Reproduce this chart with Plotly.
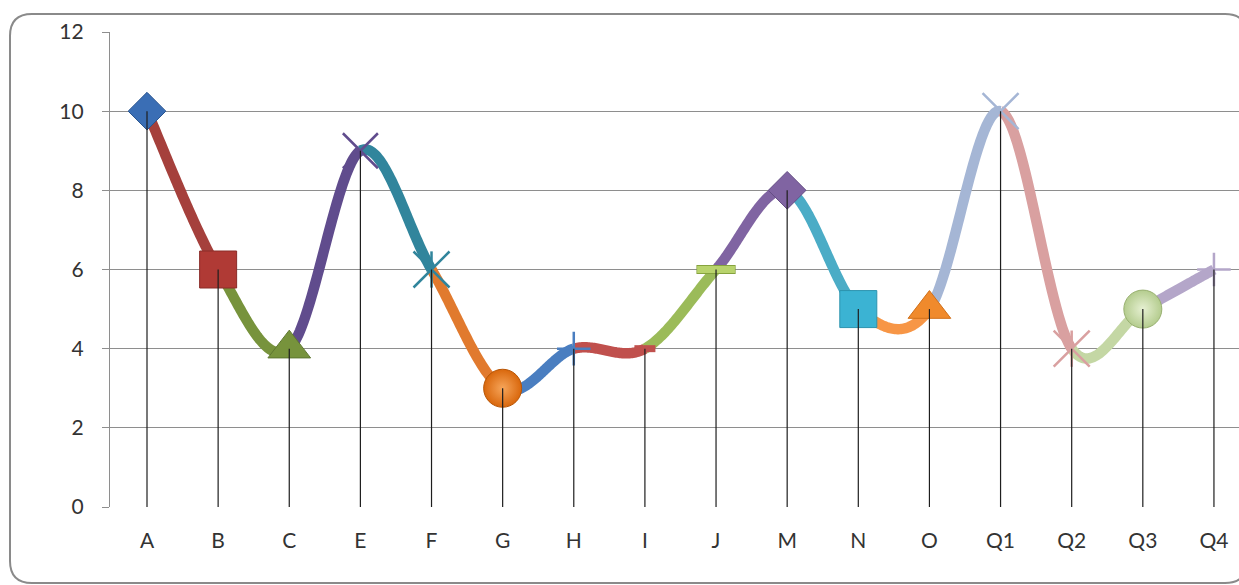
import plotly.graph_objects as go

# ---- data ----
categories = ["A", "B", "C", "E", "F", "G", "H", "I", "J", "M", "N", "O", "Q1", "Q2", "Q3", "Q4"]
values = [10, 6, 4, 9, 6, 3, 4, 4, 6, 8, 5, 5, 10, 4, 5, 6]
y_ticks = [0, 2, 4, 6, 8, 10, 12]

# ---- per-point styling (segment ending at a point takes that point's colour) ----
line_colors = ["#3A6EB5", "#A5403C", "#77933C", "#604C8D", "#31859C", "#E17A2E",
               "#4A7EC0", "#C0504D", "#9BBB59", "#8064A2", "#4BACC6", "#F79646",
               "#A5B6D5", "#D9A0A0", "#C4D7A4", "#B4A6C9"]
marker_styles = [
    dict(symbol="diamond", size=29, color="#3A6EB5", edge="#2A5590"),
    dict(symbol="square", size=37, color="#B03A35", edge="#8A2C28"),
    dict(symbol="triangle-up", size=37, color="#77933C", edge="#5E7730"),
    dict(symbol="x-thin", size=35, color="#604C8D", edge="#604C8D", lw=2.5),
    dict(symbol="x-thin", size=36, color="#31859C", edge="#31859C", lw=2.5, star=True),
    dict(symbol="circle", size=38, color="#D9670C", edge="#B85606", glow="#F6A55A"),
    dict(symbol="cross-thin", size=24, color="#4A7EC0", edge="#4A7EC0", lw=2.5),
    dict(symbol="line-ew", size=15, color="#C0504D", edge="#C0504D", lw=7),
    dict(symbol="line-ew", size=27, color="#B8D36C", edge="#86A33E", lw=7),
    dict(symbol="diamond", size=29, color="#8064A2", edge="#654E85"),
    dict(symbol="square", size=37, color="#3BB3D3", edge="#2C93AE"),
    dict(symbol="triangle-up", size=37, color="#F08A2C", edge="#D0701A"),
    dict(symbol="x-thin", size=36, color="#A5B6D5", edge="#A5B6D5", lw=2.5),
    dict(symbol="x-thin", size=36, color="#D9A0A0", edge="#D9A0A0", lw=2.5, star=True),
    dict(symbol="circle", size=38, color="#B4CC8E", edge="#98B070", glow="#E6F0D2"),
    dict(symbol="cross-thin", size=24, color="#B4A6C9", edge="#B4A6C9", lw=2.5),
]

GRID = "#8E8E8E"
TEXT = "#333333"
FONT = "Lato"

n = len(values)
xs = list(range(n))


def smooth_segment(i, steps=60):
    """Cubic Bezier (Catmull-Rom style) between point i and i+1."""
    p0 = (xs[max(i - 1, 0)], values[max(i - 1, 0)])
    p1 = (xs[i], values[i])
    p2 = (xs[i + 1], values[i + 1])
    p3 = (xs[min(i + 2, n - 1)], values[min(i + 2, n - 1)])
    c1 = (p1[0] + (p2[0] - p0[0]) / 6, p1[1] + (p2[1] - p0[1]) / 6)
    c2 = (p2[0] - (p3[0] - p1[0]) / 6, p2[1] - (p3[1] - p1[1]) / 6)
    cx, cy = [], []
    for k in range(steps + 1):
        t = k / steps
        a, b, c, d = (1 - t) ** 3, 3 * (1 - t) ** 2 * t, 3 * (1 - t) * t ** 2, t ** 3
        cx.append(a * p1[0] + b * c1[0] + c * c2[0] + d * p2[0])
        cy.append(a * p1[1] + b * c1[1] + c * c2[1] + d * p2[1])
    return cx, cy


fig = go.Figure()

# coloured smooth segments
for i in range(n - 1):
    cx, cy = smooth_segment(i)
    fig.add_trace(go.Scatter(x=cx, y=cy, mode="lines",
                             line=dict(color=line_colors[i + 1], width=10.5,
                                       simplify=False),
                             hoverinfo="skip", showlegend=False))

# markers
for i, st in enumerate(marker_styles):
    sym = st["symbol"]
    if sym in ("x-thin", "cross-thin", "line-ew"):
        if sym == "line-ew" and st["edge"] != st["color"]:
            fig.add_trace(go.Scatter(
                x=[xs[i]], y=[values[i]], mode="markers", showlegend=False,
                marker=dict(symbol=sym, size=st["size"] + 1,
                            line=dict(color=st["edge"], width=st["lw"] + 2))))
        fig.add_trace(go.Scatter(
            x=[xs[i]], y=[values[i]], mode="markers", showlegend=False,
            marker=dict(symbol=sym, size=st["size"],
                        line=dict(color=st["color"], width=st["lw"]))))
        if st.get("star"):
            fig.add_trace(go.Scatter(
                x=[xs[i]], y=[values[i]], mode="markers", showlegend=False,
                marker=dict(symbol="line-ns", size=st["size"] * 0.72,
                            line=dict(color=st["color"], width=st["lw"]))))
    else:
        mk = dict(symbol=sym, size=st["size"], color=st["color"],
                  line=dict(color=st["edge"], width=1))
        if "glow" in st:
            mk["gradient"] = dict(type="radial", color=st["glow"])
        fig.add_trace(go.Scatter(x=[xs[i]], y=[values[i]], mode="markers",
                                 marker=mk, showlegend=False))

# drop lines from each point to the axis
drop_x, drop_y = [], []
for x, v in zip(xs, values):
    drop_x += [x, x, None]
    drop_y += [0, v, None]
fig.add_trace(go.Scatter(x=drop_x, y=drop_y, mode="lines",
                         line=dict(color="#1E1E1E", width=1.2),
                         hoverinfo="skip", showlegend=False))

# layout geometry (pixels)
W, H = 1239, 585
L, T, B = 110, 32, 78
plot_w, plot_h = W - L, H - T - B


def px(xp):
    return (xp - L) / plot_w


def py(yp):
    return (H - B - yp) / plot_h


fx0, fy0, fx1, fy1, rad = 10, 14, 1247, 583, 22
frame = (
    f"M {px(fx0 + rad)},{py(fy0)} L {px(fx1 - rad)},{py(fy0)} "
    f"Q {px(fx1)},{py(fy0)} {px(fx1)},{py(fy0 + rad)} "
    f"L {px(fx1)},{py(fy1 - rad)} Q {px(fx1)},{py(fy1)} {px(fx1 - rad)},{py(fy1)} "
    f"L {px(fx0 + rad)},{py(fy1)} Q {px(fx0)},{py(fy1)} {px(fx0)},{py(fy1 - rad)} "
    f"L {px(fx0)},{py(fy0 + rad)} Q {px(fx0)},{py(fy0)} {px(fx0 + rad)},{py(fy0)} Z"
)

unit = 71.13
fig.update_layout(
    width=W, height=H,
    margin=dict(l=L, r=0, t=T, b=B, autoexpand=False),
    paper_bgcolor="white", plot_bgcolor="white",
    showlegend=False,
    font=dict(family=FONT, size=21, color=TEXT),
    shapes=[dict(type="path", xref="paper", yref="paper", path=frame,
                 line=dict(color="#8A8A8A", width=2), layer="below")],
    xaxis=dict(
        range=[-(147 - L) / unit, (W - 147) / unit],
        tickmode="array", tickvals=xs, ticktext=categories,
        showgrid=False, zeroline=False, ticks="",
        showline=False, ticklabelstandoff=19,
        tickfont=dict(family=FONT, size=21, color=TEXT),
    ),
    yaxis=dict(
        range=[0, 12], tickmode="array", tickvals=y_ticks,
        showgrid=True, gridcolor=GRID, gridwidth=1.3,
        zeroline=False, showline=True, linecolor=GRID, linewidth=1.3,
        ticks="outside", ticklen=7, tickcolor=GRID, tickwidth=1.3,
        ticklabelstandoff=14,
        tickfont=dict(family=FONT, size=21, color=TEXT),
    ),
)

fig.write_html("out.html")
